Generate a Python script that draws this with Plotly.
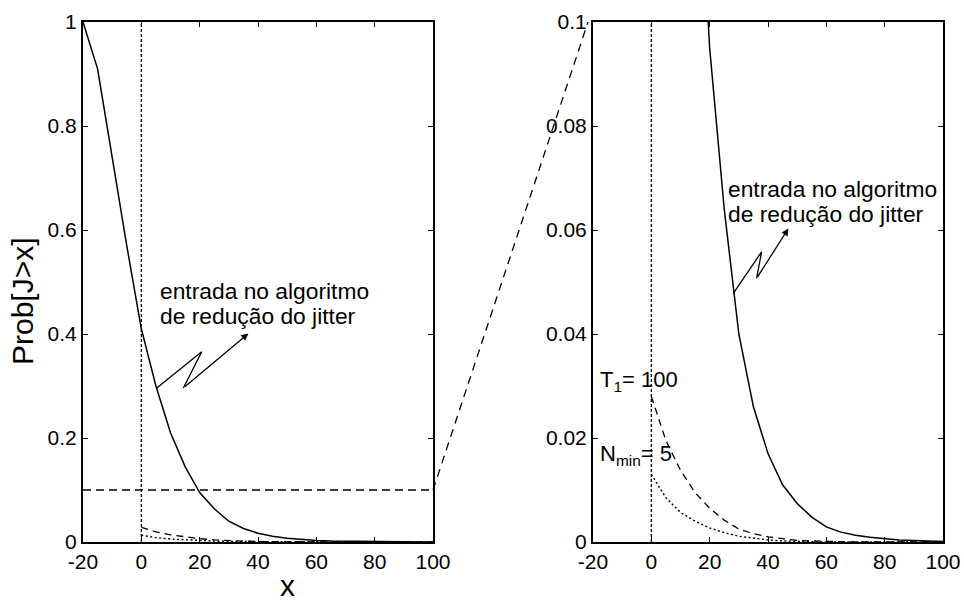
import plotly.graph_objects as go

FONT = "Liberation Sans, Arial, sans-serif"

# ---------------- data ----------------
x_entrada = [-20, -15, -10, -5, 0, 5, 10, 15, 20, 25, 30, 35, 40, 45, 50, 55, 60, 65, 70, 75, 80, 85, 90, 95, 100]
p_entrada = [1.0, 0.91, 0.74, 0.57, 0.41, 0.30, 0.21, 0.145, 0.095, 0.064, 0.040, 0.026, 0.017, 0.011,
             0.0074, 0.0048, 0.0029, 0.0019, 0.0013, 0.0009, 0.0006, 0.0004, 0.0003, 0.0002, 0.0001]

x_t1 = [0, 5, 10, 15, 20, 25, 30, 35, 40, 45, 50, 55, 60, 70, 80, 90, 100]
p_t1 = [0.028, 0.0195, 0.0138, 0.0095, 0.0065, 0.0042, 0.0025, 0.0016, 0.0010, 0.0006, 0.0003, 0.0002,
        0.0001, 0.0, 0.0, 0.0, 0.0]

x_nmin = [0, 5, 10, 15, 20, 25, 30, 35, 40, 45, 50, 60, 70, 80, 90, 100]
p_nmin = [0.013, 0.0085, 0.0057, 0.0040, 0.0027, 0.0018, 0.0011, 0.0007, 0.0004, 0.0002, 0.0001,
          0.0, 0.0, 0.0, 0.0, 0.0]

x_range = [-20, 100]
x_ticks = [-20, 0, 20, 40, 60, 80, 100]
x_ticktext = ["-20", "0", "20", "40", "60", "80", "100"]
y_left_ticks = [0, 0.2, 0.4, 0.6, 0.8, 1.0]
y_left_text = ["0", "0.2", "0.4", "0.6", "0.8", "1"]
y_right_ticks = [0, 0.02, 0.04, 0.06, 0.08, 0.1]
y_right_text = ["0", "0.02", "0.04", "0.06", "0.08", "0.1"]
zoom_level = 0.1
x_marker = 0

label_text = ["entrada no algoritmo", "de redução do jitter"]
t1_text = "T<sub>1</sub>= 100"
nmin_text = "N<sub>min</sub>= 5"

# ---------------- layout geometry ----------------
W, H = 964, 601
xdom_left = [83 / W, 433 / W]
xdom_right = [593 / W, 943 / W]
ydom = [1 - 542 / H, 1 - 22 / H]

fig = go.Figure()

SOLID = dict(color="black", width=1.5)
DASH = dict(color="black", width=1.3, dash="7px,5px")
DOT = dict(color="black", width=1.4, dash="2px,2.5px")

for xa, ya in (("x", "y"), ("x2", "y2")):
    fig.add_trace(go.Scatter(x=x_entrada, y=p_entrada, mode="lines", line=SOLID, xaxis=xa, yaxis=ya))
    fig.add_trace(go.Scatter(x=x_t1, y=p_t1, mode="lines", line=DASH, xaxis=xa, yaxis=ya))
    fig.add_trace(go.Scatter(x=x_nmin, y=p_nmin, mode="lines", line=DOT, xaxis=xa, yaxis=ya))

# horizontal zoom level line in left panel
fig.add_trace(go.Scatter(x=x_range, y=[zoom_level, zoom_level], mode="lines",
                         line=dict(color="black", width=1.3, dash="8px,5px"), xaxis="x", yaxis="y"))

axis_common = dict(showline=True, linecolor="black", linewidth=2, mirror="allticks",
                   ticks="inside", ticklen=5, tickwidth=1.2, tickcolor="black",
                   showgrid=False, zeroline=False, automargin=False,
                   tickfont=dict(size=21, color="black", family=FONT))

fig.update_layout(
    template="none",
    width=W, height=H,
    margin=dict(l=0, r=0, t=0, b=0, pad=0, autoexpand=False),
    paper_bgcolor="white", plot_bgcolor="white",
    showlegend=False,
    font=dict(family=FONT, color="black"),
    xaxis=dict(domain=xdom_left, range=x_range, tickvals=x_ticks, ticktext=x_ticktext,
               anchor="y", **axis_common),
    yaxis=dict(domain=ydom, range=[0, 1], tickvals=y_left_ticks, ticktext=y_left_text,
               anchor="x", **axis_common),
    xaxis2=dict(domain=xdom_right, range=x_range, tickvals=x_ticks, ticktext=x_ticktext,
                anchor="y2", **axis_common),
    yaxis2=dict(domain=ydom, range=[0, zoom_level], tickvals=y_right_ticks, ticktext=y_right_text,
                anchor="x2", **axis_common),
)

shapes = []
# vertical dotted line at x=0 in both panels
for xr, yr in (("x", "y domain"), ("x2", "y2 domain")):
    shapes.append(dict(type="line", xref=xr, yref=yr, x0=x_marker, x1=x_marker, y0=0, y1=1,
                       line=dict(color="black", width=1.3, dash="3px,2px")))
# connector from zoom level on left to top-left of right panel
yh = ydom[0] + zoom_level * (ydom[1] - ydom[0])
shapes.append(dict(type="line", xref="paper", yref="paper",
                   x0=xdom_left[1], y0=yh, x1=xdom_right[0] - 5 / W, y1=ydom[1],
                   line=dict(color="black", width=1.3, dash="8px,6px")))
# zigzag arrows (first two segments)
shapes.append(dict(type="path", xref="x", yref="y",
                   path="M 5.3,0.296 L 20.7,0.366 L 14.4,0.296",
                   line=dict(color="black", width=1.3)))
shapes.append(dict(type="path", xref="x2", yref="y2",
                   path="M 28.1,0.0478 L 37.8,0.0558 L 36.1,0.0507",
                   line=dict(color="black", width=1.3)))
fig.update_layout(shapes=shapes)

ann = []
# arrow heads
ann.append(dict(x=36.7, y=0.401, ax=14.4, ay=0.296, xref="x", yref="y", axref="x", ayref="y",
                text="", showarrow=True, arrowhead=2, arrowsize=1.1, arrowwidth=1.3, arrowcolor="black"))
ann.append(dict(x=47.0, y=0.0603, ax=36.1, ay=0.0507, xref="x2", yref="y2", axref="x2", ayref="y2",
                text="", showarrow=True, arrowhead=2, arrowsize=1.1, arrowwidth=1.3, arrowcolor="black"))
# text labels
for (x0, y1, y2, xr, yr) in ((5.7, 0.483, 0.435, "x", "y"), (25.6, 0.0679, 0.0631, "x2", "y2")):
    ann.append(dict(x=x0, y=y1, xref=xr, yref=yr, text=label_text[0], showarrow=False,
                    xanchor="left", yanchor="middle", font=dict(size=22.8, color="black", family=FONT)))
    ann.append(dict(x=x0, y=y2, xref=xr, yref=yr, text=label_text[1], showarrow=False,
                    xanchor="left", yanchor="middle", font=dict(size=22.8, color="black", family=FONT)))
ann.append(dict(x=-18.3, y=0.031, xref="x2", yref="y2", text=t1_text, showarrow=False,
                xanchor="left", yanchor="middle", font=dict(size=22, color="black", family=FONT)))
ann.append(dict(x=-18.3, y=0.0168, xref="x2", yref="y2", text=nmin_text, showarrow=False,
                xanchor="left", yanchor="middle", font=dict(size=22, color="black", family=FONT)))
# axis titles
ann.append(dict(x=22 / W, y=1 - 301 / H, xref="paper", yref="paper", text="Prob[J>x]",
                textangle=-90, showarrow=False, xanchor="center", yanchor="middle",
                font=dict(size=30, color="black", family=FONT)))
ann.append(dict(x=287 / W, y=1 - 585 / H, xref="paper", yref="paper", text="x",
                showarrow=False, xanchor="center", yanchor="middle",
                font=dict(size=30, color="black", family=FONT)))
fig.update_layout(annotations=ann)

fig.write_html("out.html", config={"displayModeBar": False},
               post_script="document.body.style.margin='0px';document.body.style.overflow='hidden';")
